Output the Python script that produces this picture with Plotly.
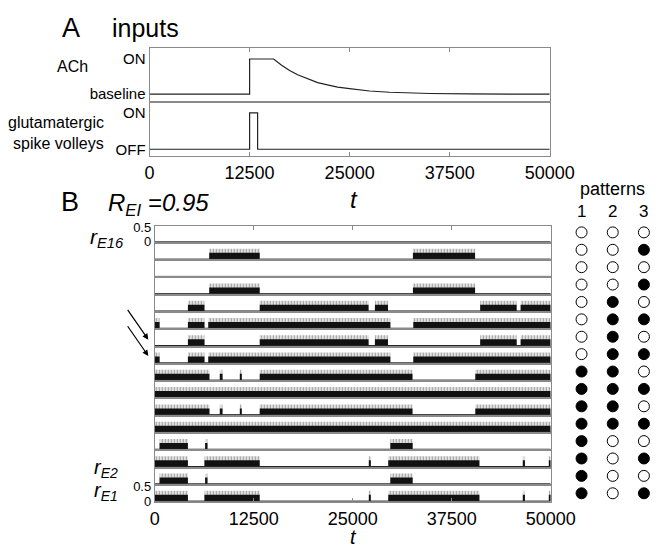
import plotly.graph_objects as go

W, H = 667, 549

# ---------------- data ----------------
time_ticks = [0, 12500, 25000, 37500, 50000]
time_tick_text = ["0", "12500", "25000", "37500", "50000"]
t_span = [0, 50000]

# Panel A inputs
ach_t = [0, 12500, 12500, 15500, 16500, 17500, 18500, 20000, 21000, 22500,
         23500, 25000, 27500, 30000, 35000, 40000, 50000]
ach_level = [0, 0, 1, 1, 0.82, 0.67, 0.55, 0.41, 0.33, 0.25,
             0.20, 0.16, 0.09, 0.055, 0.02, 0.007, 0]
glu_t = [0, 12500, 12500, 13500, 13500, 50000]
glu_level = [0, 0, 1, 1, 0, 0]

# Panel B: periods of elevated firing (start, end) for each excitatory unit
rE16_on = []
rE15_on = [(6870, 13250), (32600, 40450)]
rE14_on = []
rE13_on = [(6870, 13250), (32600, 40450)]
rE12_on = [(4180, 6270), (13250, 27000), (27800, 29450), (41100, 45700), (46200, 50000)]
rE11_on = [(0, 600), (4180, 6270), (6750, 29750), (32650, 50000)]
rE10_on = [(4180, 6270), (13250, 27000), (27800, 29450), (41100, 45700), (46200, 50000)]
rE9_on = [(0, 600), (4180, 6270), (6750, 29750), (32650, 50000)]
rE8_on = [(0, 6900), (8300, 8550), (10750, 10950), (13250, 32550), (40480, 50000)]
rE7_on = [(0, 50000)]
rE6_on = [(0, 6900), (8300, 8550), (10750, 10950), (13250, 32550), (40480, 50000)]
rE5_on = [(0, 50000)]
rE4_on = [(600, 4180), (6350, 6650), (29750, 32570)]
rE3_on = [(0, 4180), (6270, 13250), (27050, 27250), (29480, 41000), (46500, 46750), (49800, 50000)]
rE2_on = [(600, 4180), (6350, 6650), (29750, 32570)]
rE1_on = [(0, 4180), (6270, 13250), (27050, 27250), (29480, 41000), (46500, 46750), (49800, 50000)]

silent_rate = 0.0   # rate outside the active periods
dense_rate = 0.22   # dense part of the active traces
spike_rate = 0.36   # typical spike tops in active traces

# stored patterns, listed from unit E16 (top) to E1 (bottom)
pattern_1 = [0, 0, 0, 0, 0, 0, 0, 0, 1, 1, 1, 1, 1, 1, 1, 1]
pattern_2 = [0, 0, 0, 0, 1, 1, 1, 1, 1, 1, 1, 1, 0, 0, 0, 0]
pattern_3 = [0, 1, 0, 1, 0, 1, 0, 1, 0, 1, 0, 1, 0, 1, 0, 1]
pattern_ids = [1, 2, 3]
unit_numbers = list(range(16, 0, -1))

rows_on = [rE16_on, rE15_on, rE14_on, rE13_on, rE12_on, rE11_on, rE10_on, rE9_on,
           rE8_on, rE7_on, rE6_on, rE5_on, rE4_on, rE3_on, rE2_on, rE1_on]

# ---------------- figure ----------------
FONT = "Liberation Sans, Arial, Helvetica, sans-serif"
GRAY = "#8a8a8a"
fig = go.Figure()


def ydom(top, bottom):
    return [1 - bottom / H, 1 - top / H]


layout = dict(
    width=W, height=H, margin=dict(l=0, r=0, t=0, b=0),
    paper_bgcolor="white", plot_bgcolor="white", showlegend=False,
    barmode="overlay", font=dict(family=FONT, color="black"),
)

# Panel A
fig.add_trace(go.Scatter(x=ach_t, y=ach_level, mode="lines",
                         line=dict(color="#222", width=1.2), xaxis="x", yaxis="y"))
fig.add_trace(go.Scatter(x=glu_t, y=glu_level, mode="lines",
                         line=dict(color="#222", width=1.2), xaxis="x2", yaxis="y2"))

xa_common = dict(range=t_span, showgrid=False, zeroline=False, showline=True,
                 mirror=True, linecolor=GRAY, linewidth=1, tickvals=time_ticks,
                 ticktext=time_tick_text, ticks="inside", ticklen=4, tickcolor=GRAY,
                 tickfont=dict(size=18))
A_dom = [143 / W, 562 / W]
layout["xaxis"] = dict(xa_common, domain=A_dom, anchor="y", side="top", showticklabels=False)
layout["yaxis"] = dict(domain=ydom(36, 90.7), range=[-0.214, 1.306], anchor="x",
                       showgrid=False, zeroline=False, showline=True, mirror=True,
                       linecolor=GRAY, tickvals=[0, 1], ticktext=["baseline", "ON"],
                       ticks="", tickfont=dict(size=15))
layout["xaxis2"] = dict(xa_common, domain=A_dom, anchor="y2", side="bottom")
layout["yaxis2"] = dict(domain=ydom(90.7, 146.7), range=[-0.198, 1.303], anchor="x2",
                        showgrid=False, zeroline=False, showline=True, mirror=True,
                        linecolor=GRAY, tickvals=[0, 1], ticktext=["OFF", "ON"],
                        ticks="", tickfont=dict(size=15))

# Panel B rows
B_top, row_h = 217.3, 17.67
B_dom = [148.5 / W, 563 / W]
for i, periods in enumerate(rows_on):
    n = i + 3
    xn, yn = f"x{n}", f"y{n}"
    if periods:
        centers = [(a + b) / 2 for a, b in periods]
        widths = [b - a for a, b in periods]
        fig.add_trace(go.Bar(x=centers, y=[spike_rate] * len(periods), width=widths,
                             marker=dict(color="white", line=dict(width=0),
                                         pattern=dict(shape="|", fgcolor="#444", bgcolor="white",
                                                      size=3, solidity=0.55)),
                             xaxis=xn, yaxis=yn))
        fig.add_trace(go.Bar(x=centers, y=[dense_rate] * len(periods), width=widths,
                             marker=dict(color="#111", line=dict(width=0)),
                             xaxis=xn, yaxis=yn))
    fig.add_trace(go.Scatter(x=t_span, y=[silent_rate, silent_rate], mode="lines",
                             line=dict(color="#222", width=1), xaxis=xn, yaxis=yn))
    xa = dict(xa_common, domain=B_dom, anchor=yn, showticklabels=False, ticks="")
    if i == 0:
        xa.update(side="top", ticks="inside")
    if i == 15:
        xa.update(side="bottom", ticks="inside", showticklabels=True)
    ya = dict(domain=ydom(B_top + row_h * i, B_top + row_h * (i + 1)), range=[-0.035, 0.57],
              anchor=xn, showgrid=False, showline=True, mirror=True, linecolor=GRAY,
              zeroline=False, ticks="", showticklabels=False)
    if i in (0, 15):
        ya.update(showticklabels=True, tickvals=[0, 0.5], ticktext=["0", "0.5"],
                  tickfont=dict(size=13))
    layout[f"xaxis{n}"] = xa
    layout[f"yaxis{n}"] = ya

# Patterns panel
for col, pat in zip(pattern_ids, [pattern_1, pattern_2, pattern_3]):
    fig.add_trace(go.Scatter(
        x=[col] * 16, y=unit_numbers, mode="markers",
        marker=dict(size=11, color=["black" if p else "white" for p in pat],
                    line=dict(color="black", width=1)),
        xaxis="x19", yaxis="y19"))
layout["xaxis19"] = dict(domain=[579 / W, 1], range=[0.5, 3.195], anchor="y19",
                         showgrid=False, zeroline=False, showline=False, ticks="",
                         showticklabels=False)
layout["yaxis19"] = dict(domain=ydom(215.4, 499.9), range=[0.5, 16.5], anchor="x19",
                         showgrid=False, zeroline=False, showline=False, showticklabels=False)


def ann(text, x, y, size, xanchor="center", yanchor="middle"):
    return dict(text=text, x=x / W, y=1 - y / H, xref="paper", yref="paper",
                showarrow=False, xanchor=xanchor, yanchor=yanchor,
                font=dict(size=size, family=FONT, color="black"))


annotations = [
    ann("A", 61, 15, 27),
    ann("inputs", 139, 15, 25),
    ann("ACh", 62, 55, 16),
    ann("glutamatergic", 97, 112, 16, xanchor="right"),
    ann("spike volleys", 97, 133, 16, xanchor="right"),
    ann("<i>t</i>", 357, 191, 24),
    ann("B", 60, 193, 27),
    ann("<i>R</i><sub><i>EI</i></sub><i> =0.95</i>", 97, 196, 24, xanchor="left"),
    ann("<i>r</i><sub><i>E16</i></sub>", 98, 230, 21),
    ann("<i>r</i><sub><i>E2</i></sub>", 97, 466, 20),
    ann("<i>r</i><sub><i>E1</i></sub>", 97, 489, 20),
    ann("<i>t</i>", 357, 549, 20, yanchor="bottom"),
    ann("patterns", 628, 180, 18),
]
for col in pattern_ids:
    annotations.append(dict(text=str(col), x=col, y=1 - 203 / H, xref="x19", yref="paper",
                            showarrow=False, xanchor="center", yanchor="middle",
                            font=dict(size=17, family=FONT, color="black")))
for tip_y in (334, 350.7):
    annotations.append(dict(text="", x=141.7 / W, y=1 - tip_y / H, xref="paper", yref="paper",
                            showarrow=True, arrowhead=2, arrowsize=1, arrowwidth=1.2,
                            arrowcolor="black", ax=-21.7, ay=-31.3))
layout["annotations"] = annotations

fig.update_layout(**layout)
fig.write_html("out.html")
